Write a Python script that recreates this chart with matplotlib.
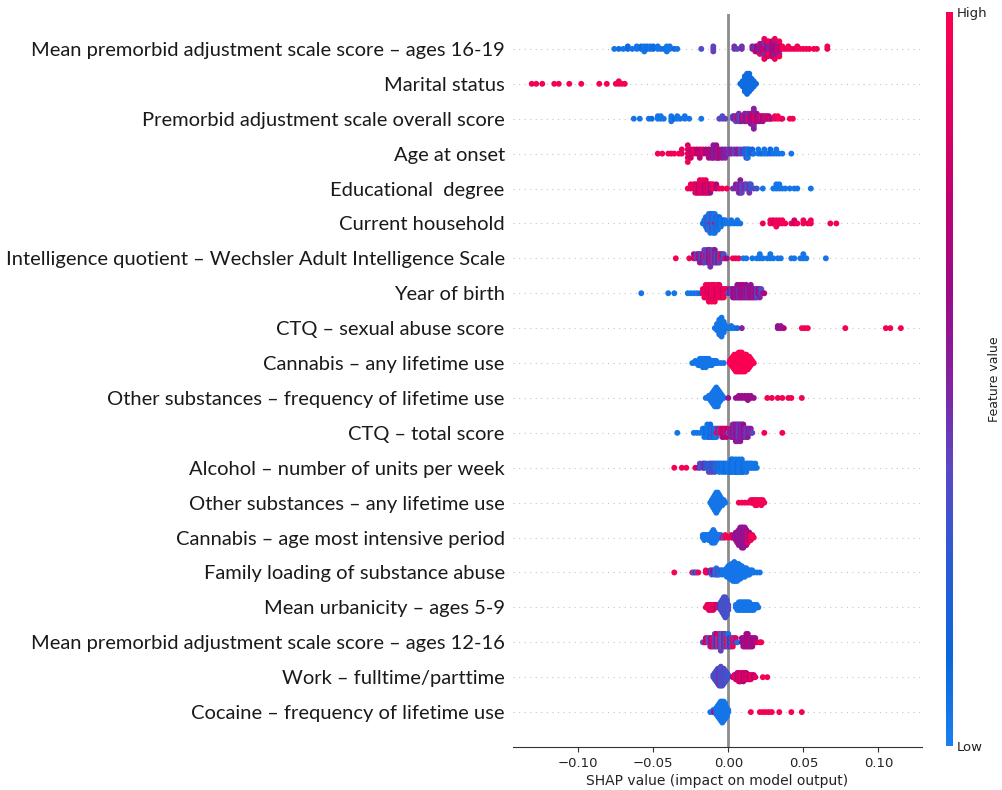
import numpy as np
import matplotlib
matplotlib.use("Agg")
import matplotlib.pyplot as plt
from matplotlib.colors import LinearSegmentedColormap
import matplotlib.cm as cm

# ---------------- data ----------------
features = [
    "Mean premorbid adjustment scale score \u2013 ages 16-19",
    "Marital status",
    "Premorbid adjustment scale overall score",
    "Age at onset",
    "Educational  degree",
    "Current household",
    "Intelligence quotient \u2013 Wechsler Adult Intelligence Scale",
    "Year of birth",
    "CTQ \u2013 sexual abuse score",
    "Cannabis \u2013 any lifetime use",
    "Other substances \u2013 frequency of lifetime use",
    "CTQ \u2013 total score",
    "Alcohol \u2013 number of units per week",
    "Other substances \u2013 any lifetime use",
    "Cannabis \u2013 age most intensive period",
    "Family loading of substance abuse",
    "Mean urbanicity \u2013 ages 5-9",
    "Mean premorbid adjustment scale score \u2013 ages 12-16",
    "Work \u2013 fulltime/parttime",
    "Cocaine \u2013 frequency of lifetime use",
]

# each entry: (SHAP value, feature value 0..1, number of samples)
pas_16_19 = [(-0.076,0.05,1),(-0.073,0.08,1),(-0.070,0.05,1),(-0.067,0.1,2),(-0.064,0.05,1),(-0.061,0.05,2),
    (-0.058,0.1,2),(-0.056,0.05,3),(-0.054,0.08,2),(-0.052,0.05,2),(-0.050,0.1,2),(-0.047,0.05,2),(-0.045,0.05,1),
    (-0.043,0.08,1),(-0.041,0.05,3),(-0.039,0.05,2),(-0.036,0.1,1),(-0.034,0.05,1),
    (-0.018,0.35,1),(-0.010,0.4,3),(0.004,0.45,2),(0.006,0.4,1),(0.009,0.45,2),
    (0.016,0.5,2),(0.018,0.45,2),(0.018,0.8,1),(0.019,0.6,3),(0.021,0.5,3),(0.021,0.9,2),(0.022,0.55,4),
    (0.023,0.8,3),(0.024,0.45,4),(0.024,0.9,2),(0.026,0.6,4),(0.026,0.85,3),(0.027,0.5,4),(0.027,0.95,2),
    (0.029,0.55,4),(0.029,0.8,3),(0.030,0.7,4),(0.031,0.5,3),(0.031,0.9,2),(0.032,0.6,3),(0.033,0.85,3),
    (0.034,0.5,2),(0.034,0.95,2),(0.035,0.7,2),(0.036,0.95,2),
    (0.038,0.95,1),(0.040,0.95,2),(0.042,0.95,1),(0.044,0.9,1),(0.046,0.95,2),(0.048,0.95,1),(0.050,0.95,1),
    (0.052,0.95,1),(0.054,0.95,1),(0.057,0.95,1),(0.059,0.95,1),(0.066,0.95,2)]
marital = [(-0.131,0.95,1),(-0.128,0.95,1),(-0.124,0.95,1),(-0.116,0.95,1),(-0.113,0.95,1),(-0.106,0.95,1),
    (-0.098,0.95,1),(-0.086,0.95,1),(-0.081,0.95,1),(-0.075,0.95,1),(-0.073,0.95,2),(-0.071,0.95,1),(-0.069,0.95,1),
    (0.008,0.1,1),(0.0095,0.1,3),(0.011,0.1,7),(0.0125,0.1,9),(0.014,0.1,8),(0.0155,0.1,5),(0.017,0.1,3),(0.0185,0.1,1)]
pas_overall = [(-0.063,0.05,1),(-0.059,0.05,1),(-0.053,0.05,1),(-0.051,0.1,1),(-0.047,0.05,2),(-0.045,0.05,2),
    (-0.043,0.05,1),(-0.038,0.05,3),(-0.036,0.1,1),(-0.034,0.05,2),(-0.032,0.05,1),(-0.029,0.05,2),(-0.026,0.05,1),
    (-0.018,0.05,1),(-0.006,0.4,1),(-0.004,0.35,2),(-0.002,0.4,1),
    (0.003,0.3,2),(0.004,0.6,2),(0.005,0.4,3),(0.006,0.8,2),(0.007,0.45,4),(0.008,0.35,3),(0.009,0.55,3),
    (0.010,0.9,2),(0.011,0.5,4),(0.012,0.7,3),(0.013,0.45,4),(0.014,0.85,3),(0.015,0.55,5),(0.016,0.75,4),
    (0.017,0.5,5),(0.018,0.9,3),(0.019,0.6,4),(0.020,0.8,3),(0.021,0.55,3),(0.022,0.95,2),(0.023,0.65,3),
    (0.024,0.85,2),(0.025,0.5,2),(0.026,0.9,2),(0.027,0.7,2),(0.028,0.95,1),(0.029,0.6,1),
    (0.031,0.95,2),(0.033,0.95,2),(0.035,0.95,1),(0.036,0.9,1),(0.041,0.95,1),(0.043,0.95,1)]
age_onset = [(-0.047,0.95,1),(-0.044,0.95,1),(-0.040,0.95,1),(-0.038,0.9,1),(-0.036,0.95,1),(-0.033,0.95,1),
    (-0.031,0.9,2),(-0.027,0.85,4),(-0.027,0.95,1),(-0.025,0.8,3),(-0.023,0.9,2),(-0.021,0.75,2),(-0.019,0.7,3),
    (-0.017,0.85,2),(-0.015,0.65,2),(-0.013,0.7,3),(-0.011,0.6,3),
    (-0.010,0.55,4),(-0.008,0.6,4),(-0.007,0.5,3),(-0.006,0.7,3),(-0.004,0.55,3),(-0.002,0.5,3),(0.000,0.45,2),
    (0.002,0.5,2),(0.004,0.4,2),(0.006,0.55,2),(0.008,0.35,2),(0.010,0.45,2),
    (0.011,0.1,2),(0.012,0.3,3),(0.013,0.05,3),(0.014,0.1,2),(0.016,0.2,2),(0.017,0.05,1),
    (0.020,0.05,2),(0.022,0.1,1),(0.024,0.05,2),(0.026,0.05,1),(0.028,0.1,2),(0.030,0.05,1),(0.032,0.05,2),
    (0.034,0.05,1),(0.036,0.05,1),(0.042,0.05,1)]
education = [(-0.027,0.95,1),(-0.025,0.9,2),(-0.023,0.95,2),(-0.022,0.8,3),(-0.021,0.95,3),(-0.020,0.7,3),
    (-0.019,0.9,4),(-0.018,0.8,3),(-0.017,0.95,4),(-0.016,0.65,3),(-0.015,0.9,4),(-0.014,0.75,3),(-0.013,0.95,3),
    (-0.012,0.6,3),(-0.011,0.85,2),(-0.010,0.95,2),(-0.008,0.7,2),(-0.006,0.9,1),(-0.004,0.95,1),(-0.001,0.95,1),
    (0.003,0.45,1),(0.005,0.5,2),(0.007,0.45,3),(0.008,0.55,4),(0.009,0.4,3),(0.011,0.5,2),(0.012,0.35,2),
    (0.014,0.45,3),(0.015,0.3,2),(0.017,0.4,1),(0.019,0.3,1),
    (0.023,0.05,1),(0.030,0.05,1),(0.032,0.05,2),(0.034,0.05,2),(0.036,0.05,1),(0.038,0.05,1),(0.041,0.05,1),
    (0.044,0.05,1),(0.046,0.05,1),(0.055,0.05,1)]
household = [(-0.017,0.05,1),(-0.016,0.1,2),(-0.015,0.05,4),(-0.014,0.3,5),(-0.013,0.05,6),(-0.012,0.9,1),
    (-0.012,0.05,6),(-0.011,0.35,6),(-0.010,0.05,7),(-0.009,0.8,1),(-0.009,0.05,6),(-0.008,0.3,5),(-0.007,0.05,5),
    (-0.006,0.1,4),(-0.005,0.05,3),(-0.004,0.05,2),(-0.003,0.1,2),(-0.002,0.05,2),(0.000,0.05,1),(0.002,0.05,2),
    (0.004,0.05,1),(0.006,0.05,2),(0.008,0.05,1),
    (0.023,0.9,1),(0.028,0.95,2),(0.030,0.85,2),(0.032,0.95,3),(0.034,0.9,2),(0.036,0.95,2),(0.038,0.95,1),
    (0.042,0.95,1),(0.044,0.8,2),(0.046,0.95,1),(0.050,0.95,2),(0.053,0.85,1),(0.055,0.95,2),(0.068,0.95,1),
    (0.072,0.95,1)]
iq = [(-0.035,0.95,1),(-0.026,0.95,1),(-0.023,0.6,2),(-0.022,0.95,1),(-0.021,0.35,2),(-0.020,0.8,2),
    (-0.019,0.5,3),(-0.018,0.1,2),(-0.017,0.7,3),(-0.016,0.4,4),(-0.015,0.9,2),(-0.014,0.3,4),(-0.013,0.6,4),
    (-0.012,0.45,5),(-0.011,0.85,3),(-0.010,0.35,4),(-0.009,0.55,4),(-0.008,0.1,3),(-0.007,0.75,3),(-0.006,0.4,3),
    (-0.005,0.95,2),(-0.004,0.5,2),(-0.003,0.3,2),(-0.002,0.9,1),(-0.001,0.6,1),
    (0.003,0.95,1),(0.005,0.9,1),(0.007,0.95,1),
    (0.010,0.05,1),(0.012,0.05,1),(0.016,0.05,1),(0.019,0.05,1),(0.021,0.05,2),(0.023,0.05,1),(0.026,0.05,1),
    (0.028,0.05,2),(0.030,0.05,1),(0.033,0.05,1),(0.035,0.05,1),(0.042,0.05,1),(0.044,0.05,1),(0.048,0.05,1),
    (0.050,0.05,2),(0.052,0.05,1),(0.065,0.05,1)]
birth_year = [(-0.058,0.05,1),(-0.040,0.05,1),(-0.036,0.05,1),(-0.027,0.05,1),(-0.025,0.05,1),(-0.023,0.05,1),
    (-0.021,0.05,1),(-0.019,0.1,1),
    (-0.017,0.95,2),(-0.016,0.9,3),(-0.015,0.95,4),(-0.014,0.85,3),(-0.013,0.95,5),(-0.012,0.8,3),(-0.011,0.95,5),
    (-0.010,0.9,4),(-0.009,0.95,5),(-0.008,0.75,3),(-0.007,0.95,4),(-0.006,0.9,4),(-0.005,0.95,3),(-0.004,0.8,3),
    (-0.003,0.95,3),(-0.002,0.9,2),(-0.001,0.95,2),(0.000,0.05,1),
    (0.001,0.6,2),(0.002,0.35,2),(0.003,0.55,3),(0.004,0.7,3),(0.005,0.5,3),(0.006,0.6,4),(0.007,0.45,3),
    (0.008,0.65,4),(0.009,0.55,3),(0.010,0.7,4),(0.011,0.5,3),(0.012,0.6,4),(0.013,0.45,3),(0.014,0.65,3),
    (0.015,0.55,4),(0.016,0.7,3),(0.017,0.5,3),(0.018,0.6,3),(0.019,0.4,3),(0.020,0.65,2),(0.021,0.5,3),
    (0.022,0.35,2),(0.023,0.55,1),(0.024,0.7,1)]
ctq_sexual = [(-0.009,0.05,1),(-0.0075,0.05,4),(-0.006,0.05,8),(-0.0045,0.05,10),(-0.003,0.05,6),(-0.0015,0.05,2),
    (0.000,0.05,1),(0.002,0.05,2),(0.004,0.05,1),(0.006,0.1,1),(0.009,0.5,1),
    (0.033,0.6,2),(0.035,0.55,2),(0.037,0.7,1),(0.049,0.95,1),(0.051,0.95,1),(0.053,0.95,1),(0.078,0.95,1),
    (0.105,0.95,1),(0.108,0.95,1),(0.115,0.95,1)]
cannabis_any = [(-0.024,0.05,1),(-0.022,0.05,2),(-0.020,0.05,3),(-0.019,0.05,4),(-0.018,0.05,4),(-0.017,0.05,5),
    (-0.016,0.05,4),(-0.015,0.05,5),(-0.014,0.05,4),(-0.013,0.05,4),(-0.012,0.05,3),(-0.011,0.05,3),(-0.010,0.05,2),
    (-0.009,0.05,2),(-0.008,0.05,2),(-0.007,0.05,1),(-0.005,0.05,1),(-0.003,0.05,1),
    (0.001,0.97,2),(0.002,0.97,4),(0.003,0.97,6),(0.004,0.97,8),(0.005,0.97,9),(0.006,0.97,9),(0.007,0.97,10),
    (0.008,0.97,10),(0.009,0.97,10),(0.010,0.97,9),(0.011,0.97,9),(0.012,0.97,8),(0.013,0.97,7),(0.014,0.97,6),
    (0.015,0.97,4),(0.016,0.97,2),(0.017,0.97,1)]
other_freq = [(-0.015,0.05,1),(-0.013,0.05,2),(-0.012,0.05,3),(-0.011,0.05,5),(-0.010,0.05,7),(-0.009,0.05,9),
    (-0.008,0.05,10),(-0.007,0.05,9),(-0.006,0.05,6),(-0.005,0.05,4),(-0.004,0.05,2),(-0.003,0.05,1),
    (0.000,0.6,1),(0.005,0.6,1),(0.007,0.6,2),(0.009,0.6,2),(0.011,0.6,2),(0.013,0.6,3),(0.015,0.6,2),(0.017,0.6,1),
    (0.026,0.95,1),(0.029,0.95,1),(0.033,0.95,1),(0.036,0.95,1),(0.040,0.95,1),(0.042,0.95,1),(0.049,0.95,1)]
ctq_total = [(-0.034,0.05,1),(-0.023,0.05,1),(-0.021,0.05,1),(-0.019,0.05,1),(-0.017,0.05,2),(-0.016,0.05,3),
    (-0.015,0.1,2),(-0.014,0.05,4),(-0.013,0.05,3),(-0.012,0.1,4),(-0.011,0.05,3),(-0.010,0.3,3),(-0.009,0.05,3),
    (-0.008,0.95,1),(-0.008,0.05,2),(-0.007,0.9,2),(-0.006,0.3,2),(-0.005,0.95,2),(-0.004,0.8,3),(-0.003,0.6,3),
    (-0.002,0.95,2),(-0.001,0.75,3),(0.000,0.05,1),(0.001,0.9,2),(0.002,0.5,3),(0.003,0.55,4),(0.004,0.45,4),
    (0.005,0.6,5),(0.006,0.5,5),(0.007,0.4,4),(0.008,0.55,5),(0.009,0.45,4),(0.010,0.6,4),(0.011,0.5,3),
    (0.012,0.4,3),(0.013,0.55,3),(0.014,0.45,2),(0.015,0.5,2),(0.016,0.4,1),(0.024,0.95,1),(0.036,0.95,1)]
alcohol = [(-0.036,0.95,1),(-0.031,0.95,1),(-0.028,0.95,1),(-0.022,0.9,1),(-0.020,0.6,1),(-0.019,0.35,2),
    (-0.017,0.3,2),(-0.016,0.5,2),(-0.015,0.2,2),(-0.013,0.35,3),(-0.012,0.1,2),(-0.011,0.4,3),(-0.010,0.15,2),
    (-0.009,0.3,3),(-0.008,0.05,2),(-0.007,0.25,2),(-0.006,0.05,3),(-0.005,0.1,2),(-0.004,0.05,3),(-0.003,0.05,2),
    (-0.002,0.1,3),(-0.001,0.05,2),(0.000,0.05,3),(0.001,0.05,3),(0.002,0.1,4),(0.003,0.05,4),(0.004,0.05,3),
    (0.005,0.05,4),(0.006,0.1,3),(0.007,0.05,4),(0.008,0.05,3),(0.009,0.05,4),(0.010,0.1,3),(0.011,0.05,2),
    (0.012,0.05,3),(0.013,0.05,2),(0.014,0.05,2),(0.015,0.05,2),(0.016,0.05,2),(0.017,0.05,1),(0.018,0.05,2),
    (0.019,0.05,1)]
other_any = [(-0.012,0.05,1),(-0.011,0.05,3),(-0.010,0.05,5),(-0.009,0.05,7),(-0.008,0.05,9),(-0.007,0.05,8),
    (-0.006,0.05,6),(-0.005,0.05,4),(-0.004,0.05,3),(-0.003,0.05,2),(-0.002,0.05,1),
    (0.007,0.95,1),(0.009,0.95,1),(0.011,0.95,1),(0.013,0.95,1),(0.015,0.95,2),(0.016,0.95,2),(0.017,0.8,2),
    (0.018,0.95,3),(0.019,0.95,3),(0.020,0.95,2),(0.021,0.95,2),(0.022,0.95,3),(0.023,0.95,2),(0.024,0.95,1)]
cannabis_age = [(-0.017,0.05,2),(-0.016,0.05,3),(-0.015,0.05,2),(-0.014,0.05,2),(-0.013,0.05,3),(-0.012,0.05,3),
    (-0.011,0.05,5),(-0.010,0.05,6),(-0.009,0.05,5),(-0.008,0.05,3),(-0.007,0.05,2),(-0.006,0.05,2),(-0.005,0.05,2),
    (-0.004,0.95,1),(-0.003,0.05,1),(-0.002,0.95,2),(0.000,0.95,1),(0.002,0.95,2),(0.003,0.9,1),
    (0.004,0.6,2),(0.005,0.55,4),(0.006,0.6,5),(0.007,0.55,7),(0.008,0.6,8),(0.009,0.55,9),(0.010,0.6,9),
    (0.011,0.55,8),(0.012,0.6,7),(0.013,0.9,5),(0.014,0.6,4),(0.015,0.95,3),(0.016,0.9,2),(0.017,0.95,1)]
family = [(-0.036,0.95,1),(-0.024,0.95,1),(-0.023,0.05,1),(-0.022,0.5,1),(-0.021,0.05,1),(-0.020,0.95,1),
    (-0.015,0.95,2),(-0.014,0.9,1),(-0.012,0.5,2),(-0.011,0.3,3),(-0.010,0.6,2),(-0.009,0.35,3),(-0.008,0.05,4),
    (-0.007,0.4,3),(-0.006,0.05,3),(-0.005,0.3,2),(-0.004,0.05,3),(-0.003,0.05,2),(-0.002,0.05,3),(-0.001,0.05,5),
    (0.000,0.05,6),(0.001,0.05,7),(0.002,0.05,8),(0.003,0.05,9),(0.004,0.05,10),(0.005,0.05,9),(0.006,0.05,9),
    (0.007,0.05,8),(0.008,0.05,7),(0.009,0.05,6),(0.010,0.05,5),(0.011,0.05,5),(0.012,0.05,4),(0.013,0.05,3),
    (0.014,0.05,3),(0.015,0.05,2),(0.016,0.05,2),(0.017,0.05,1),(0.019,0.05,1),(0.021,0.05,1)]
urbanicity = [(-0.015,0.95,1),(-0.014,0.9,2),(-0.013,0.95,3),(-0.012,0.8,3),(-0.011,0.95,3),(-0.010,0.85,3),
    (-0.009,0.95,2),(-0.008,0.7,2),(-0.007,0.9,2),(-0.006,0.5,2),(-0.005,0.3,4),(-0.004,0.35,6),(-0.003,0.3,8),
    (-0.002,0.35,9),(-0.001,0.3,7),(0.000,0.35,3),
    (0.005,0.05,2),(0.006,0.05,3),(0.007,0.05,4),(0.008,0.05,4),(0.009,0.05,4),(0.010,0.05,4),(0.011,0.05,4),
    (0.012,0.05,4),(0.013,0.05,4),(0.014,0.05,4),(0.015,0.05,3),(0.016,0.05,3),(0.017,0.05,3),(0.018,0.05,2),
    (0.019,0.05,2),(0.020,0.05,1)]
pas_12_16 = [(-0.017,0.05,1),(-0.016,0.95,1),(-0.015,0.6,2),(-0.014,0.95,2),(-0.013,0.05,2),(-0.012,0.8,3),
    (-0.011,0.5,3),(-0.010,0.95,3),(-0.009,0.35,4),(-0.008,0.75,4),(-0.007,0.05,3),(-0.006,0.9,4),(-0.005,0.4,5),
    (-0.004,0.05,4),(-0.003,0.8,4),(-0.002,0.3,4),(-0.001,0.95,3),(0.000,0.05,4),(0.001,0.7,3),(0.002,0.1,3),
    (0.003,0.95,3),(0.004,0.4,2),(0.005,0.9,2),(0.006,0.05,1),
    (0.009,0.6,2),(0.010,0.65,3),(0.011,0.55,3),(0.012,0.7,4),(0.013,0.6,4),(0.014,0.75,3),(0.015,0.55,3),
    (0.016,0.65,3),(0.017,0.7,2),(0.018,0.6,2),(0.019,0.8,1),(0.021,0.95,1),(0.022,0.95,1)]
work = [(-0.010,0.35,2),(-0.009,0.3,4),(-0.008,0.4,6),(-0.007,0.3,8),(-0.006,0.45,9),(-0.005,0.35,10),
    (-0.004,0.3,9),(-0.003,0.4,8),(-0.002,0.3,6),(-0.001,0.35,4),(0.000,0.3,2),
    (0.003,0.8,1),(0.004,0.75,2),(0.005,0.95,3),(0.006,0.7,4),(0.007,0.85,5),(0.008,0.75,5),(0.009,0.95,4),
    (0.010,0.7,5),(0.011,0.85,4),(0.012,0.75,4),(0.013,0.95,3),(0.014,0.7,3),(0.015,0.85,3),(0.016,0.95,2),
    (0.017,0.75,2),(0.018,0.9,1),(0.023,0.95,1),(0.026,0.95,1)]
cocaine = [(-0.012,0.05,1),(-0.010,0.05,2),(-0.0095,0.75,1),(-0.008,0.05,4),(-0.007,0.05,6),(-0.006,0.05,8),
    (-0.005,0.05,10),(-0.004,0.05,11),(-0.003,0.05,10),(-0.002,0.05,8),(-0.001,0.05,5),(0.000,0.05,2),
    (0.015,0.95,1),(0.021,0.95,1),(0.023,0.95,1),(0.025,0.95,1),(0.027,0.95,1),(0.029,0.95,1),(0.034,0.95,1),
    (0.042,0.95,1),(0.049,0.95,1)]

rows = [pas_16_19, marital, pas_overall, age_onset, education, household, iq, birth_year, ctq_sexual,
        cannabis_any, other_freq, ctq_total, alcohol, other_any, cannabis_age, family, urbanicity,
        pas_12_16, work, cocaine]

xticks = [-0.10, -0.05, 0.00, 0.05, 0.10]
xtick_labels = ["\u22120.10", "\u22120.05", "0.00", "0.05", "0.10"]

# ---------------- blue -> purple -> red colormap (as in the colour bar) ----------------
cmap_stops = [0.0, 0.12, 0.25, 0.38, 0.5, 0.62, 0.75, 0.88, 1.0]
cmap_colors = ["#1a7ff0", "#0b66dc", "#2a5bd4", "#5a48c4", "#8520a0", "#9c0a88", "#c00070", "#e4005e", "#ff0050"]
red_blue = LinearSegmentedColormap.from_list("red_blue", list(zip(cmap_stops, cmap_colors)))

# ---------------- figure ----------------
fig = plt.figure(figsize=(10.03, 7.9), dpi=100)
ax = fig.add_axes([513 / 1003, 43 / 790, 409 / 1003, 733 / 790])

n = len(features)
row_height = 0.4
ax.axvline(0, color="#8c8c8c", lw=2, zorder=-1)
for i, (name, groups) in enumerate(zip(features, rows)):
    pos = n - 1 - i
    ax.axhline(pos, color="#c4c4c4", lw=0.8, dashes=(1, 4), zorder=-1)
    shaps = np.concatenate([[g[0]] * g[2] for g in groups]).astype(float)
    fvals = np.concatenate([[g[1]] * g[2] for g in groups]).astype(float)
    N = len(shaps)
    nbins = 100
    quant = np.round(nbins * (shaps - shaps.min()) / (shaps.max() - shaps.min() + 1e-8))
    inds = np.argsort(quant, kind="stable")
    layer, last_bin = 0, -1
    ys = np.zeros(N)
    for ind in inds:
        if quant[ind] != last_bin:
            layer = 0
        ys[ind] = np.ceil(layer / 2) * ((layer % 2) * 2 - 1)
        layer += 1
        last_bin = quant[ind]
    ys *= 0.9 * (row_height / np.max(ys + 1))
    ax.scatter(shaps, pos + ys, c=fvals, cmap=red_blue, vmin=0, vmax=1, s=18,
               linewidth=0, alpha=1, zorder=3, rasterized=True)

ax.set_ylim(-1, n)
ax.set_xlim(-0.1435, 0.1291)
ax.set_yticks(range(n))
ax.set_yticklabels(features[::-1], fontsize=14.5, family=["Lato", "DejaVu Sans"], color="#1a1a1a")
ax.tick_params("y", length=0, pad=6)
ax.set_xticks(xticks)
ax.set_xticklabels(xtick_labels)
ax.tick_params("x", labelsize=9.5, length=3.5, color="#333333", labelcolor="#222222")
ax.set_xlabel("SHAP value (impact on model output)", fontsize=10, color="#222222", labelpad=3)
for s in ("top", "right", "left"):
    ax.spines[s].set_visible(False)
ax.spines["bottom"].set_color("#333333")

cax = fig.add_axes([946 / 1003, 44 / 790, 7 / 1003, 734 / 790])
sm = cm.ScalarMappable(cmap=red_blue)
sm.set_array([0, 1])
cb = fig.colorbar(sm, cax=cax, ticks=[0, 1])
cb.set_ticklabels(["Low", "High"])
cb.ax.tick_params(labelsize=9.5, length=0, pad=3, labelcolor="#222222")
cb.set_label("Feature value", size=9, labelpad=0, color="#222222")
cb.outline.set_visible(False)

fig.savefig("out.png", dpi=100)
